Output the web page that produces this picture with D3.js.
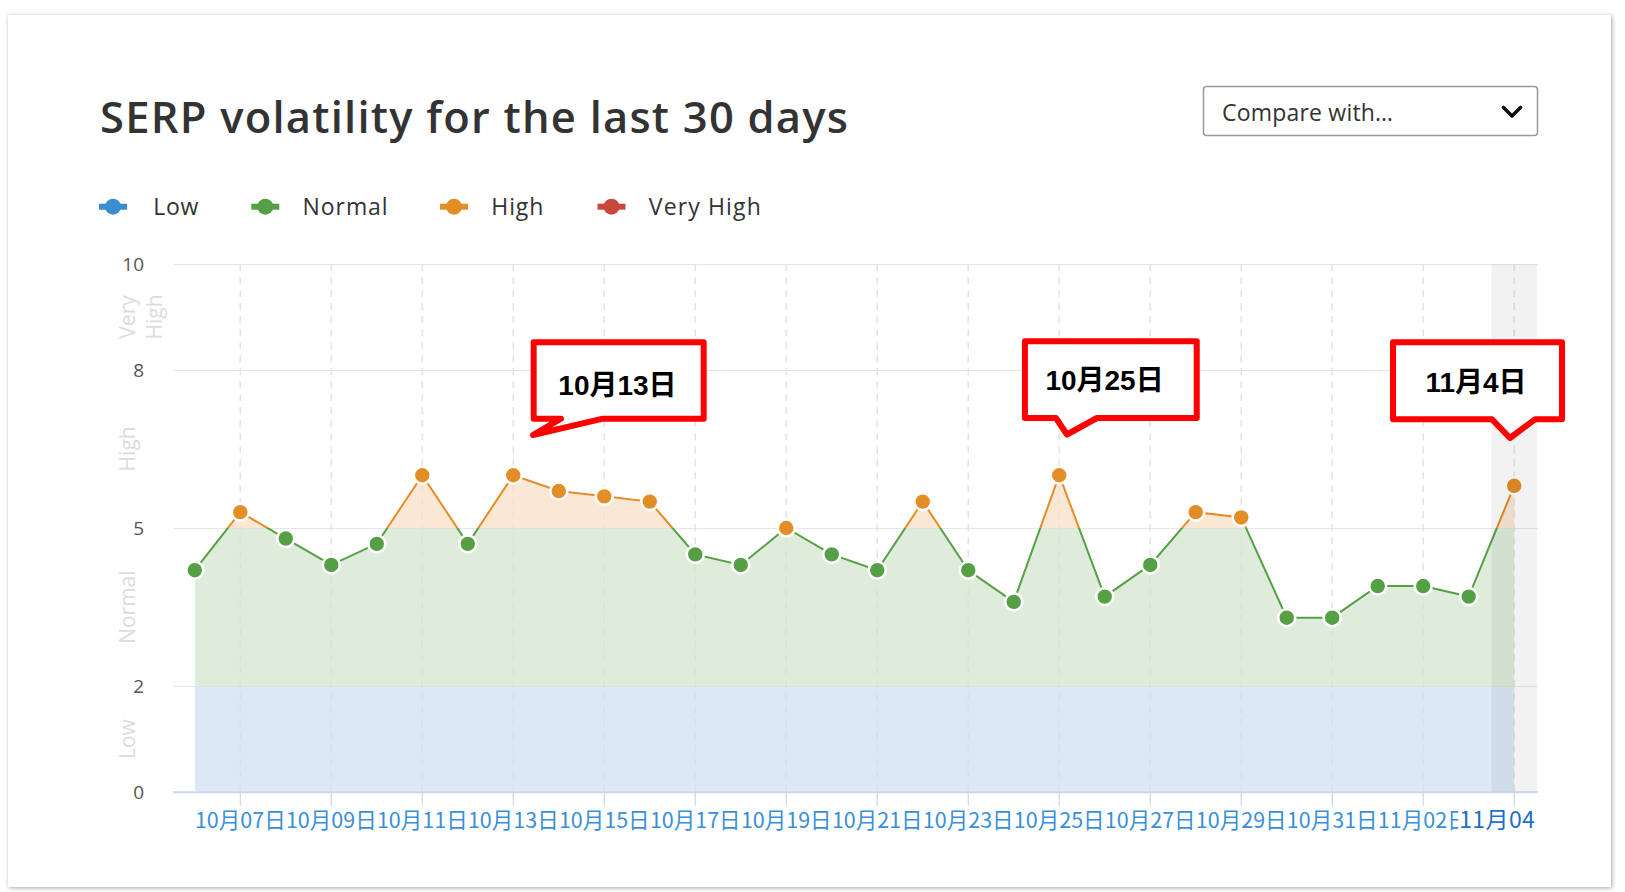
<!DOCTYPE html>
<html><head><meta charset="utf-8">
<script src="https://cdn.jsdelivr.net/npm/d3@7"></script>
<style>
html,body{margin:0;padding:0;background:#fff;}
svg{display:block;}
</style></head><body>
<svg id="chart" width="1625" height="892"></svg>
<script>
// ---------------- DATA ----------------
const dates = ["2019-10-06","2019-10-07","2019-10-08","2019-10-09","2019-10-10","2019-10-11","2019-10-12","2019-10-13","2019-10-14","2019-10-15",
               "2019-10-16","2019-10-17","2019-10-18","2019-10-19","2019-10-20","2019-10-21","2019-10-22","2019-10-23","2019-10-24","2019-10-25",
               "2019-10-26","2019-10-27","2019-10-28","2019-10-29","2019-10-30","2019-10-31","2019-11-01","2019-11-02","2019-11-03","2019-11-04"];
const values = [4.2,5.3,4.8,4.3,4.7,6.0,4.7,6.0,5.7,5.6,
                5.5,4.5,4.3,5.0,4.5,4.2,5.5,4.2,3.6,6.0,
                3.7,4.3,5.3,5.2,3.3,3.3,3.9,3.9,3.7,5.8];
const tickDates = ["2019-10-07","2019-10-09","2019-10-11","2019-10-13","2019-10-15","2019-10-17","2019-10-19","2019-10-21",
                   "2019-10-23","2019-10-25","2019-10-27","2019-10-29","2019-10-31","2019-11-02","2019-11-04"];
const tickLabels = ["10月07日","10月09日","10月11日","10月13日","10月15日","10月17日","10月19日","10月21日",
                    "10月23日","10月25日","10月27日","10月29日","10月31日","11月02日","11月04日"];
const yTicks = [0,2,5,8,10];
const bandNames = ["Low","Normal","High","Very High"];
const bandEdges = [0,2,5,8,10];
const highlightDate = "2019-11-04";
const calloutLabels = ["10月13日","10月25日","11月4日"];
const calloutDates = ["2019-10-13","2019-10-25","2019-11-04"];
const titleText = "SERP volatility for the last 30 days";
const compareText = "Compare with…";

// ---------------- STYLE ----------------
const lineColors = ["#3a8dd0","#55a045","#e38d27","#c9463d"];
const fillColors = ["rgb(208,224,240)","rgb(214,230,207)","rgb(248,224,199)","rgb(240,200,196)"];

const svg = d3.select("#chart");
const parse = d3.utcParse("%Y-%m-%d");

// card with shadow
const defs = svg.append("defs");
const f = defs.append("filter").attr("id","shadow").attr("x","-5%").attr("y","-5%").attr("width","110%").attr("height","110%");
f.append("feDropShadow").attr("dx",1).attr("dy",1).attr("stdDeviation",2).attr("flood-color","#000").attr("flood-opacity",0.35);
svg.append("rect").attr("x",8).attr("y",15).attr("width",1603).attr("height",872)
  .attr("fill","#fff").attr("filter","url(#shadow)");

function fitWidth(sel, target){
  const n = sel.text().length;
  const w = sel.node().getComputedTextLength();
  sel.attr("letter-spacing", ((target - w)/Math.max(1,n-1)).toFixed(2));
}

// title
const title = svg.append("text").attr("x",100).attr("y",132.5)
  .attr("font-family","'Open Sans', sans-serif").attr("font-weight",600).attr("font-size",43.5)
  .attr("fill","#333").text(titleText);
fitWidth(title, 748);

// dropdown
svg.append("rect").attr("x",1203.5).attr("y",86.5).attr("width",334).attr("height",49).attr("rx",3)
  .attr("fill","#fff").attr("stroke","#999").attr("stroke-width",1.5);
const cmp = svg.append("text").attr("x",1222).attr("y",120.5)
  .attr("font-family","'Open Sans', sans-serif").attr("font-size",23).attr("fill","#333").text(compareText);
fitWidth(cmp, 171);
svg.append("polyline").attr("points","1503.5,107.5 1512,116 1520.5,107.5")
  .attr("fill","none").attr("stroke","#111").attr("stroke-width",3.6).attr("stroke-linecap","round").attr("stroke-linejoin","round");

// legend
const legendMarkerX = [113,265.3,454,611.5];
const legendTextX = [153.3,302.6,491.3,648.8];
const legendTextW = [45,85,52,112];
const legendY = 206.7;
bandNames.forEach((name,i)=>{
  svg.append("line").attr("x1",legendMarkerX[i]-14).attr("x2",legendMarkerX[i]+14)
    .attr("y1",legendY).attr("y2",legendY).attr("stroke",lineColors[i]).attr("stroke-width",6);
  svg.append("circle").attr("cx",legendMarkerX[i]).attr("cy",legendY).attr("r",8).attr("fill",lineColors[i]);
  const t = svg.append("text").attr("x",legendTextX[i]).attr("y",legendY+8.2)
    .attr("font-family","'Open Sans', sans-serif").attr("font-size",23).attr("fill","#333").text(name);
  fitWidth(t, legendTextW[i]);
});

// ---------------- SCALES ----------------
const plotL = 173, plotR = 1537.5;
const x = d3.scaleUtc().domain([parse(dates[0]), parse(dates[dates.length-1])]).range([194.8,1514.2]);
const y = d3.scaleLinear().domain([0,10]).range([791.8,264.2]);
const data = dates.map((d,i)=>({date:parse(d), value:values[i]}));
const dayW = x(parse(dates[1])) - x(parse(dates[0]));

const plot = svg.append("g");

// horizontal gridlines
plot.selectAll("line.hgrid").data(yTicks.filter(v=>v>0)).join("line").attr("class","hgrid")
  .attr("x1",plotL).attr("x2",plotR).attr("y1",d=>Math.round(y(d))+0.5).attr("y2",d=>Math.round(y(d))+0.5)
  .attr("stroke","#e6e6e6").attr("stroke-width",1);
// vertical dashed gridlines
plot.selectAll("line.vgrid").data(tickDates).join("line").attr("class","vgrid")
  .attr("x1",d=>x(parse(d))).attr("x2",d=>x(parse(d))).attr("y1",y(10)).attr("y2",y(0))
  .attr("stroke","#e4e4e4").attr("stroke-width",1.6).attr("stroke-dasharray","7,6");

// band clip paths
bandNames.forEach((n,i)=>{
  defs.append("clipPath").attr("id","band"+i).append("rect")
    .attr("x",0).attr("width",1625)
    .attr("y",y(bandEdges[i+1])).attr("height",y(bandEdges[i])-y(bandEdges[i+1]));
});

const area = d3.area().x(d=>x(d.date)).y0(y(0)).y1(d=>y(d.value));
const line = d3.line().x(d=>x(d.date)).y(d=>y(d.value));

bandNames.forEach((n,i)=>{
  plot.append("path").datum(data).attr("d",area).attr("clip-path",`url(#band${i})`)
    .attr("fill",fillColors[i]).attr("fill-opacity",0.75);
});

// x axis line & ticks
plot.append("line").attr("x1",plotL).attr("x2",plotR).attr("y1",y(0)+0.5).attr("y2",y(0)+0.5)
  .attr("stroke","#ccd6eb").attr("stroke-width",2);
plot.selectAll("line.tick").data(tickDates).join("line").attr("class","tick")
  .attr("x1",d=>x(parse(d))).attr("x2",d=>x(parse(d))).attr("y1",y(0)+1).attr("y2",y(0)+14)
  .attr("stroke","#ccd6eb").attr("stroke-width",1.2);

// lines
bandNames.forEach((n,i)=>{
  plot.append("path").datum(data).attr("d",line).attr("clip-path",`url(#band${i})`)
    .attr("fill","none").attr("stroke",lineColors[i]).attr("stroke-width",2);
});

// points
function bandOf(v){ for(let i=bandEdges.length-2;i>=0;i--){ if(v>=bandEdges[i]) return Math.min(i,3);} return 0; }
plot.selectAll("circle.pt").data(data).join("circle").attr("class","pt")
  .attr("cx",d=>x(d.date)).attr("cy",d=>y(d.value)).attr("r",8.5)
  .attr("fill",d=>lineColors[bandOf(d.value)]).attr("stroke","#fff").attr("stroke-width",2.6);

// highlight column
const hx = x(parse(highlightDate));
plot.append("rect").attr("x",hx-dayW/2).attr("y",y(10)).attr("width",dayW).attr("height",y(0)-y(10))
  .attr("fill","rgba(0,0,0,0.05)");

// y tick labels
svg.selectAll("text.ylab").data(yTicks).join("text").attr("class","ylab")
  .attr("x",144).attr("y",d=>y(d)+7).attr("text-anchor","end")
  .attr("font-family","'Open Sans', sans-serif").attr("font-size",19).attr("fill","#555").text(d=>d);

// band labels (rotated)
const bandLabelLines = [["Low"],["Normal"],["High"],["Very","High"]];
bandLabelLines.forEach((lines,i)=>{
  const cy = (y(bandEdges[i])+y(bandEdges[i+1]))/2;
  lines.forEach((s,j)=>{
    const bx = lines.length===1 ? 134.5 : (j===0 ? 134.5 : 161.5);
    svg.append("text").attr("transform",`translate(${bx},${cy}) rotate(-90)`)
      .attr("text-anchor","middle").attr("font-family","'Open Sans', sans-serif").attr("font-size",21)
      .attr("fill","#dcdcdc").text(s);
  });
});

// x tick labels (the label next to the highlighted one is cut where the highlight label starts)
const hx0 = hx - 56;
defs.append("clipPath").attr("id","prevclip").append("rect").attr("x",0).attr("y",0).attr("width",hx0).attr("height",892);
tickDates.forEach((d,i)=>{
  if(d===highlightDate) return;
  const t = svg.append("text").attr("x",x(parse(d))).attr("y",828).attr("text-anchor","middle")
    .attr("font-family","'Noto Sans CJK SC', sans-serif").attr("font-size",21.5).attr("fill","#3a8fd9")
    .text(tickLabels[i]);
  if(i===tickDates.length-2) t.attr("clip-path","url(#prevclip)");
});
// highlighted label
defs.append("clipPath").attr("id","hlclip").append("rect").attr("x",0).attr("y",0).attr("width",plotR+0.5).attr("height",892);
const hi = tickDates.indexOf(highlightDate);
const hg = svg.append("g").attr("clip-path","url(#hlclip)");
hg.append("text").attr("x",hx0+1).attr("y",828).attr("text-anchor","start")
  .attr("font-family","'Noto Sans CJK SC', sans-serif").attr("font-size",23)
  .attr("letter-spacing",0.4).attr("fill","#1f6fc4").text(tickLabels[hi]);

// ---------------- CALLOUTS ----------------
// geometry offsets relative to the anchored date's x position
const calloutGeom = [
  {x0:20.4, x1:190.4, y0:342.3, y1:418.7, tipL:47.7, tip:[19.7,435], tipR:89.7, tx:104.2, ty:385},
  {x0:-34.3, x1:137.5, y0:341.3, y1:418, tipL:-3.3, tip:[7.7,434.5], tipR:37.7, tx:45.3, ty:379.5},
  {x0:-121.2, x1:47.8, y0:342.3, y1:419.3, tipL:-22.2, tip:[-4.2,438], tipR:20.8, tx:-38.2, ty:381.5}
];
calloutLabels.forEach((lab,i)=>{
  const cx = x(parse(calloutDates[i]));
  const g = calloutGeom[i];
  const p = d3.path();
  p.moveTo(cx+g.x0, g.y0); p.lineTo(cx+g.x1, g.y0); p.lineTo(cx+g.x1, g.y1);
  p.lineTo(cx+g.tipR, g.y1); p.lineTo(cx+g.tip[0], g.tip[1]); p.lineTo(cx+g.tipL, g.y1);
  p.lineTo(cx+g.x0, g.y1); p.closePath();
  svg.append("path").attr("d",p.toString()).attr("fill","#fff").attr("stroke","#ff0000")
    .attr("stroke-width",6).attr("stroke-linejoin","round");
  svg.append("text").attr("x",cx+g.tx).attr("y",g.ty+10).attr("text-anchor","middle")
    .attr("font-family","'Liberation Sans','Noto Sans CJK SC',sans-serif").attr("font-weight","bold")
    .attr("font-size",28).attr("fill","#000").text(lab);
});
</script>
</body></html>
